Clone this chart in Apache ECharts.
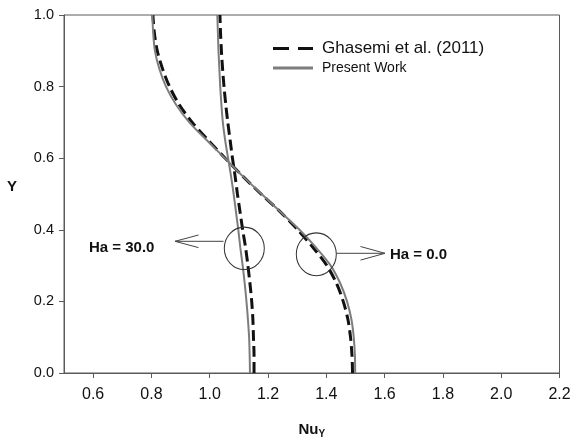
<!DOCTYPE html>
<html>
<head>
<meta charset="utf-8">
<script src="https://cdn.jsdelivr.net/npm/echarts@6/dist/echarts.min.js"></script>
<style>
  html, body { margin: 0; padding: 0; background: #fff; }
  #chart { width: 570px; height: 440px; }
</style>
</head>
<body>
<div id="chart"></div>
<script>
// Vertical coordinate Y shared by all profiles
const yLevels = [0.00, 0.05, 0.10, 0.15, 0.20, 0.25, 0.30, 0.35, 0.40, 0.45, 0.50,
                 0.55, 0.60, 0.65, 0.70, 0.75, 0.80, 0.85, 0.90, 0.95, 1.00];

// Local Nusselt number profiles, Ha = 0.0
const nuHa0Ghasemi = [1.490, 1.488, 1.483, 1.474, 1.458, 1.435, 1.402, 1.355, 1.302, 1.242, 1.176,
                      1.113, 1.053, 0.995, 0.940, 0.895, 0.862, 0.838, 0.820, 0.810, 0.805];
const nuHa0Present = [1.499, 1.498, 1.494, 1.486, 1.471, 1.448, 1.415, 1.365, 1.308, 1.243, 1.178,
                      1.113, 1.052, 0.990, 0.930, 0.884, 0.850, 0.827, 0.812, 0.806, 0.803];

// Local Nusselt number profiles, Ha = 30.0
const nuHa30Ghasemi = [1.152, 1.152, 1.150, 1.148, 1.144, 1.138, 1.131, 1.123, 1.113, 1.104, 1.095,
                       1.087, 1.078, 1.070, 1.062, 1.055, 1.049, 1.044, 1.040, 1.037, 1.035];
const nuHa30Present = [1.138, 1.137, 1.135, 1.131, 1.126, 1.120, 1.113, 1.105, 1.098, 1.090, 1.082,
                       1.073, 1.063, 1.053, 1.045, 1.040, 1.036, 1.033, 1.030, 1.028, 1.026];

// Axis ticks
const xTicks = [0.6, 0.8, 1.0, 1.2, 1.4, 1.6, 1.8, 2.0, 2.2];
const yTicks = [0.0, 0.2, 0.4, 0.6, 0.8, 1.0];

// Series names
const nameRef = 'Ghasemi et al. (2011)';
const namePresent = 'Present Work';

const FONT = 'Liberation Sans, Arial, Helvetica, sans-serif';
const AXIS_COLOR = '#5a5a5a';
const DASH_COLOR = '#111';
const SOLID_COLOR = '#7d7d7d';

function pairs(nu) {
  return nu.map((v, i) => [v, yLevels[i]]);
}

const dashedStyle = { color: DASH_COLOR, width: 3, type: [11, 5] };
const solidStyle = { color: SOLID_COLOR, width: 2, type: 'solid' };

function lineSeries(name, nu, style, z) {
  return {
    name: name,
    type: 'line',
    data: pairs(nu),
    symbol: 'none',
    smooth: 0.3,
    lineStyle: style,
    itemStyle: { color: style.color },
    z: z,
    silent: true,
    animation: false
  };
}

const chart = echarts.init(document.getElementById('chart'), null, { renderer: 'canvas' });

chart.setOption({
  animation: false,
  backgroundColor: '#fff',
  grid: {
    left: 64, top: 15, right: 10.5, bottom: 67,
    outerBoundsMode: 'none',
    containLabel: false,
    show: true, borderColor: AXIS_COLOR, borderWidth: 1, backgroundColor: 'transparent'
  },
  legend: {
    orient: 'vertical',
    left: 273, top: 40,
    padding: 0,
    itemGap: 4,
    itemWidth: 40, itemHeight: 3,
    selectedMode: false,
    data: [
      { name: nameRef,
        // two long dashes
        icon: 'path://M0,0h16v3h-16zM25,0h15v3h-15z',
        itemStyle: { color: DASH_COLOR, borderWidth: 0 },
        textStyle: { fontSize: 17, fontFamily: FONT, color: '#111', padding: [0, 0, 0, 4] } },
      { name: namePresent,
        icon: 'path://M0,0h40v3h-40z',
        itemStyle: { color: SOLID_COLOR, borderWidth: 0 },
        textStyle: { fontSize: 14, fontFamily: FONT, color: '#111', padding: [0, 0, 0, 4] } }
    ]
  },
  xAxis: {
    type: 'value',
    min: 0.5, max: 2.2,
    name: '{n|Nu}{s|Y}',
    nameLocation: 'middle',
    nameGap: 47,
    nameTextStyle: {
      rich: {
        n: { fontFamily: FONT, fontSize: 15, fontWeight: 'bold', color: '#111' },
        s: { fontFamily: FONT, fontSize: 10, fontWeight: 'bold', color: '#111', padding: [9, 0, 0, 0] }
      }
    },
    axisLine: { show: true, lineStyle: { color: AXIS_COLOR, width: 1 } },
    axisTick: { show: true, length: 5, customValues: xTicks, lineStyle: { color: AXIS_COLOR } },
    axisLabel: {
      customValues: xTicks,
      margin: 14,
      fontFamily: FONT, fontSize: 16, color: '#111',
      formatter: v => v.toFixed(1)
    },
    splitLine: { show: false }
  },
  yAxis: {
    type: 'value',
    min: 0, max: 1, interval: 0.2,
    name: 'Y',
    nameLocation: 'middle',
    nameRotate: 0,
    nameGap: 47,
    nameTextStyle: { fontFamily: FONT, fontSize: 15, fontWeight: 'bold', color: '#111', verticalAlign: 'bottom' },
    axisLine: { show: true, lineStyle: { color: AXIS_COLOR, width: 1 } },
    axisTick: { show: true, length: 5, lineStyle: { color: AXIS_COLOR } },
    axisLabel: {
      margin: 10,
      fontFamily: FONT, fontSize: 14.5, color: '#111',
      formatter: v => v.toFixed(1)
    },
    splitLine: { show: false }
  },
  series: [
    lineSeries(nameRef, nuHa0Ghasemi, dashedStyle, 3),
    lineSeries(nameRef, nuHa30Ghasemi, dashedStyle, 3),
    lineSeries(namePresent, nuHa0Present, solidStyle, 4),
    lineSeries(namePresent, nuHa30Present, solidStyle, 4)
  ],
  graphic: [
    // Ha = 30.0 marker
    { type: 'circle', shape: { cx: 0, cy: 0, r: 20 }, x: 244.3, y: 248.3, scaleY: 1.06,
      style: { fill: 'none', stroke: '#333', lineWidth: 1 }, z: 10 },
    { type: 'polyline', shape: { points: [[223.5, 241.3], [175, 241.3]] },
      style: { stroke: '#444', lineWidth: 1 }, z: 10 },
    { type: 'polyline', shape: { points: [[198.5, 235], [175, 241.3], [198.5, 247.6]] },
      style: { stroke: '#444', lineWidth: 1, fill: 'none' }, z: 10 },
    { type: 'text', x: 89, y: 247.5,
      style: { text: 'Ha = 30.0', font: 'bold 15px ' + FONT, fill: '#111', verticalAlign: 'middle' }, z: 10 },
    // Ha = 0.0 marker
    { type: 'circle', shape: { cx: 0, cy: 0, r: 20 }, x: 316.3, y: 254.3, scaleY: 1.07,
      style: { fill: 'none', stroke: '#333', lineWidth: 1 }, z: 10 },
    { type: 'polyline', shape: { points: [[336.5, 253.3], [385, 253.3]] },
      style: { stroke: '#444', lineWidth: 1 }, z: 10 },
    { type: 'polyline', shape: { points: [[360.5, 246.5], [385, 253.3], [360.5, 260.1]] },
      style: { stroke: '#444', lineWidth: 1, fill: 'none' }, z: 10 },
    { type: 'text', x: 390, y: 255,
      style: { text: 'Ha = 0.0', font: 'bold 15px ' + FONT, fill: '#111', verticalAlign: 'middle' }, z: 10 }
  ]
});
</script>
</body>
</html>
